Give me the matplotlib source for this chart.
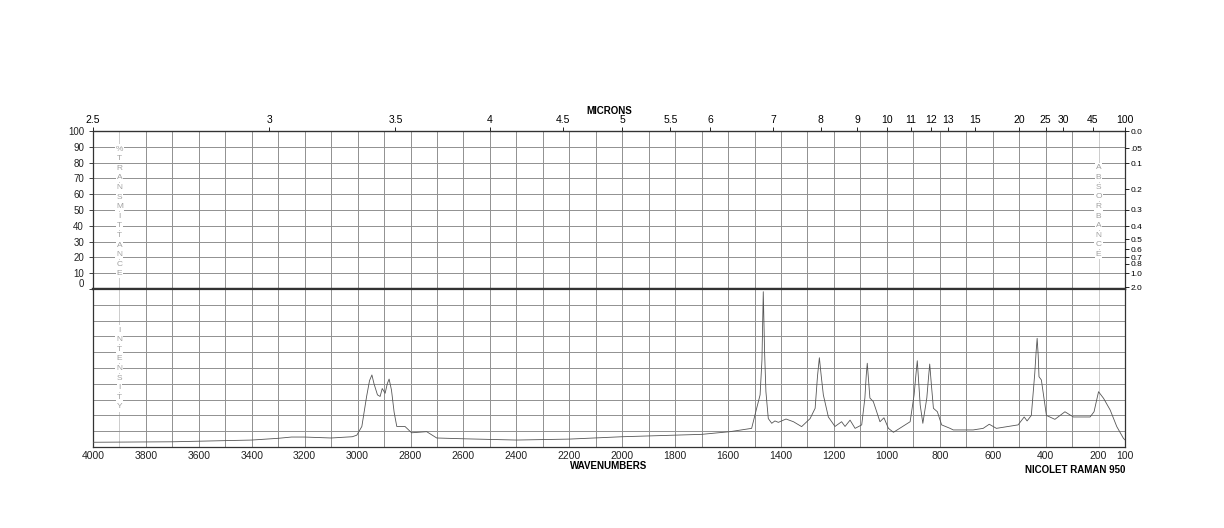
import numpy as np
import matplotlib
matplotlib.use('Agg')
import matplotlib.pyplot as plt

plt.rcParams['font.family'] = ['Liberation Sans', 'DejaVu Sans']

# 拉曼光谱 (波数, 相对强度 0-100)
wavenumbers = [4000, 3700, 3400, 3300, 3250, 3200, 3100, 3020, 3003, 2984, 2966, 2955, 2946,
               2938, 2925, 2915, 2907, 2896, 2888, 2881, 2872, 2862, 2852, 2821, 2796, 2739, 2701, 2600, 2400, 2200,
               2000, 1800, 1700, 1593, 1511, 1492, 1479, 1472, 1467, 1462, 1457, 1448, 1435, 1423,
               1410, 1381, 1353, 1322, 1290, 1271, 1262, 1255, 1248, 1240, 1221, 1196, 1171, 1158,
               1139, 1120, 1095, 1083, 1078, 1074, 1069, 1064, 1051, 1026, 1011, 994, 975, 912, 897,
               890, 885, 880, 874, 864, 849, 842, 838, 832, 824, 809, 793, 761, 749, 674, 636, 613, 586, 504,
               481, 470, 454, 441, 436, 432, 428, 425, 416, 397, 365, 327, 295, 232, 217, 200, 181,
               156, 131, 106, 100]
intensity = [3, 3.3, 4.4, 5.5, 6.3, 6.3, 5.7, 6.5, 7.5, 13, 32, 42, 45.6,
             40, 33, 32, 37, 34, 40, 43, 36, 22, 13, 13, 9, 9.7, 5.7, 5.2, 4.4, 5,
             6.5, 7.5, 8, 9.7, 11.8, 24.5, 33, 55, 98.3, 60, 35, 18, 15, 16.5,
             15.6, 17.7, 16, 12.9, 18, 24.5, 45, 56.5, 45, 33, 19, 13, 16, 13,
             17, 11.8, 14, 31, 45, 53, 42, 31, 28.7, 16, 18.5, 11.8, 9.3, 16, 33,
             46, 54.6, 42, 26.6, 15, 31, 45, 52.5, 40, 24.5, 22.3, 14, 11.8, 10.8, 10.8, 11.8, 14.4, 11.8, 14,
             19, 16.5, 20, 46.6, 60, 68.8, 58, 44.5, 42.4, 20, 17.5, 22.3, 19, 19, 22.3, 35, 30.8,
             23.4, 12.9, 5.5, 4.5]

micron_ticks = [2.5, 3, 3.5, 4, 4.5, 5, 5.5, 6, 7, 8, 9, 10, 11, 12, 13, 15, 20, 25, 30, 45, 100]
abs_ticks = ['0.0', '.05', '0.1', '0.2', '0.3', '0.4', '0.5', '0.6', '0.7', '0.8', '1.0', '2.0']
wn_ticks = list(range(4000, 199, -200)) + [100]

fig = plt.figure(figsize=(12.24, 5.28), dpi=100)
L, R = 93 / 1224, 1125 / 1224
ax_t = fig.add_axes([L, 1 - 289 / 528, R - L, 158 / 528])
ax_b = fig.add_axes([L, 1 - 447 / 528, R - L, 158 / 528], sharex=ax_t)

grid_c = '#909090'
for ax in (ax_t, ax_b):
    ax.set_xlim(4000, 100)
    ax.set_ylim(0, 100)
    for w in range(3900, 100, -100):
        c = '#cccccc' if w in (3900, 200) else grid_c
        ax.axvline(w, color=c, lw=0.7, zorder=0)
    for yv in range(10, 100, 10):
        ax.axhline(yv, color=grid_c, lw=0.7, zorder=0)
    for s in ax.spines.values():
        s.set_color('#333333')
        s.set_linewidth(0.9)
    ax.tick_params(labelsize=7, length=3, width=0.6, colors='#222222')

ax_t.spines['bottom'].set_linewidth(1.6)
ax_b.spines['top'].set_linewidth(1.6)

# 上面板: 透过率
ax_t.set_yticks(range(0, 101, 10))
ax_t.tick_params(axis='x', bottom=False, labelbottom=False)
ax_t.set_yticklabels([str(v) for v in range(0, 101, 10)])
ax_t.get_yticklabels()[0].set_va('bottom')

# 顶部微米轴
top = ax_t.secondary_xaxis('top', functions=(lambda w: 10000 / np.maximum(w, 1e-9),
                                               lambda m: 10000 / np.maximum(m, 1e-9)))
top.set_xticks(micron_ticks)
top.set_xticklabels([('%g' % m) for m in micron_ticks])
top.tick_params(labelsize=7.5, length=3, width=0.6, pad=1)
top.set_xlabel('MICRONS', fontsize=7, fontweight='bold', labelpad=1)

# 右侧吸光度轴
abs_vals = [0.0, 0.05, 0.1, 0.2, 0.3, 0.4, 0.5, 0.6, 0.7, 0.8, 1.0, 2.0]
ax_r = ax_t.twinx()
ax_r.set_ylim(0, 100)
ax_r.set_yticks([100 * 10 ** (-a) for a in abs_vals])
ax_r.set_yticklabels(abs_ticks)
ax_r.tick_params(labelsize=6, length=3, width=0.6, pad=1)
for s in ax_r.spines.values():
    s.set_visible(False)

# 下面板: 强度
ax_b.plot(wavenumbers, intensity, color='#555555', lw=0.6, zorder=3)
ax_b.set_yticks([])
ax_b.set_xticks(wn_ticks)
ax_b.set_xticklabels([str(w) for w in wn_ticks])
ax_b.tick_params(axis='x', labelsize=7.5, length=0, pad=3)
ax_b.set_xlabel('WAVENUMBERS', fontsize=7, fontweight='bold', labelpad=0)
fig.text(R, 1 - 470 / 528, 'NICOLET RAMAN 950', ha='right', va='center',
         fontsize=7, fontweight='bold')


def stacked(ax, x, y0, word):
    # 竖排灰色字母, 白底遮住网格线
    for i, ch in enumerate(word):
        ax.text(x, y0 - i * 6.08, ch, ha='center', va='center', fontsize=6,
                color='#a0a0a0', zorder=2,
                bbox=dict(facecolor='white', edgecolor='none', pad=0.8))


stacked(ax_t, 3900, 88.6, '%TRANSMITTANCE')
stacked(ax_t, 200, 76.6, 'ABSORBANCE')
stacked(ax_b, 3900, 74, 'INTENSITY')

plt.savefig('out.png', dpi=100)
plt.close()
